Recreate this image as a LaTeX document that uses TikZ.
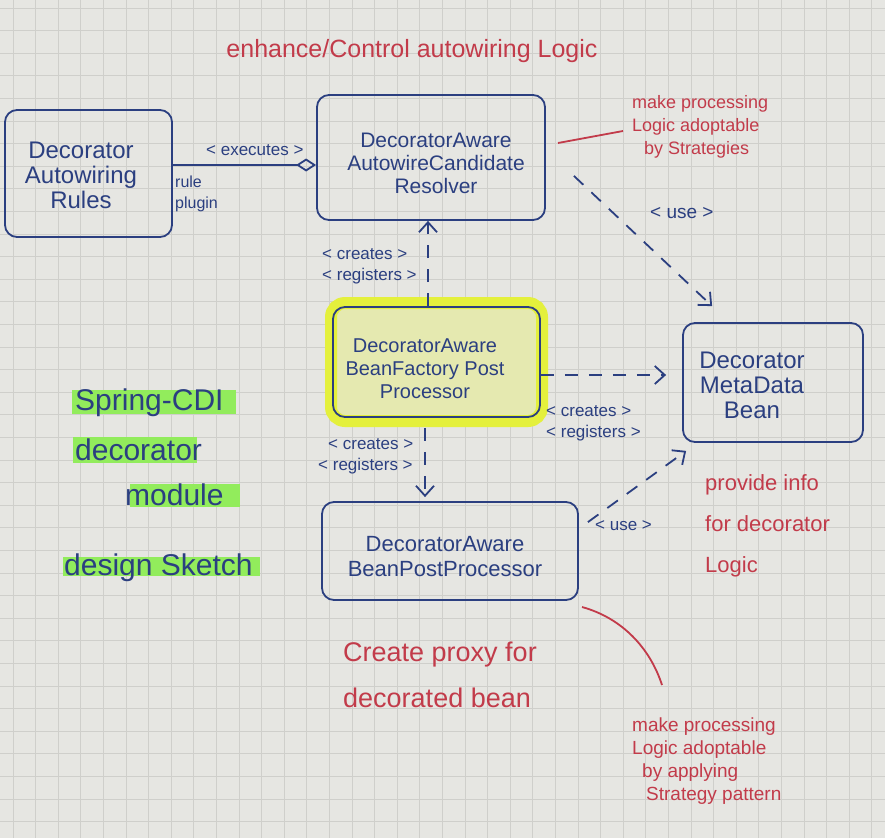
\documentclass[tikz,border=0pt]{standalone}
\usepackage{fontspec}
\setmainfont{Liberation Sans}
\usetikzlibrary{arrows.meta,calc}
\definecolor{paper}{HTML}{E6E6E2}
\definecolor{gridc}{HTML}{CFCFCB}
\definecolor{ink}{HTML}{2B3F80}
\definecolor{redink}{HTML}{C23B4A}
\definecolor{hlyellow}{HTML}{E4F03C}
\definecolor{hlgreen}{HTML}{92EC5C}
\tikzset{
  box/.style={draw=ink, line width=1.8pt, rounded corners=12pt, inner sep=0pt},
  boxtext/.style={text=ink, align=center, inner sep=0pt},
  lbl/.style={text=ink, align=left, inner sep=0pt, font=\fontsize{17}{21}\selectfont},
  redtext/.style={text=redink, align=left, inner sep=0pt},
  greentext/.style={text=ink, inner sep=0pt, font=\fontsize{30}{34}\selectfont},
  conn/.style={draw=ink, line width=1.8pt},
  dashedconn/.style={conn, dash pattern=on 13pt off 11pt},
  openhead/.style={-{Straight Barb[length=10pt,width=18pt]}},
  redline/.style={draw=redink, line width=1.8pt}
}
\begin{document}
\begin{tikzpicture}[x=1pt,y=-1pt]
\useasboundingbox (0,0) rectangle (885,838);
\fill[paper] (0,0) rectangle (885,838);
\foreach \i in {0,...,38} {\draw[gridc, line width=0.8pt] (13+22.6*\i,0) -- (13+22.6*\i,838);}
\foreach \j in {0,...,36} {\draw[gridc, line width=0.8pt] (0,8+22.6*\j) -- (885,8+22.6*\j);}

% yellow highlight behind the BeanFactoryPostProcessor box
\draw[hlyellow, line width=12pt, rounded corners=14pt, fill=hlyellow!30!paper] (331,303) rectangle (542,421);

% green highlights
\fill[hlgreen] (72,390) rectangle (236,414);
\fill[hlgreen] (73,437) rectangle (197,463);
\fill[hlgreen] (130,484) rectangle (240,507);
\fill[hlgreen] (63,557) rectangle (260,576);

% boxes
\node[box, minimum width=167pt, minimum height=127pt] (rules) at (88.5,173.5) {};
\node[boxtext, font=\fontsize{24}{25}\selectfont] (rulestext) at (81,175) {Decorator\\Autowiring\\Rules};

\node[box, minimum width=228pt, minimum height=125pt] (resolver) at (431,157.5) {};
\node[boxtext, font=\fontsize{21}{23}\selectfont] (resolvertext) at (436,163) {DecoratorAware\\AutowireCandidate\\Resolver};

\node[box, minimum width=207pt, minimum height=110pt] (bfpp) at (436.5,362) {};
\node[boxtext, font=\fontsize{20}{23}\selectfont] (bfpptext) at (425,369) {DecoratorAware\\BeanFactory Post\\Processor};

\node[box, minimum width=180pt, minimum height=119pt] (metadata) at (773,382.5) {};
\node[boxtext, font=\fontsize{24}{25}\selectfont] (metadatatext) at (752,385) {Decorator\\MetaData\\Bean};

\node[box, minimum width=256pt, minimum height=98pt] (bpp) at (450,551) {};
\node[boxtext, font=\fontsize{22}{25}\selectfont] (bpptext) at (445,557) {DecoratorAware\\BeanPostProcessor};

% connectors
\draw[conn, -{Diamond[open,length=20pt,width=13pt]}] (rules.east |- 0,165) -- (resolver.west |- 0,165);
\draw[dashedconn, openhead] (bfpp.north -| 428,0) -- (resolver.south -| 428,0);
\draw[dashedconn, openhead, shorten >=16pt] (bfpp.east |- 0,375) -- (metadata.west |- 0,375);
\draw[dashedconn, openhead, shorten <=10pt, shorten >=4pt] (bfpp.south -| 425,0) -- (bpp.north -| 425,0);
\draw[dashedconn, openhead] ($(resolver.south east)+(28,-45)$) -- ($(metadata.north west)+(30,-16)$);
\draw[dashedconn, openhead] ($(bpp.north east)+(9,21)$) -- ($(metadata.south west)+(4,8)$);

% connector labels
\node[lbl, anchor=base west] (exe) at (206,155) {< executes >};
\node[lbl, anchor=north west, font=\fontsize{16}{21}\selectfont] (plug) at (175,176) {rule\\plugin};
\node[lbl, anchor=north west] (crup) at (322,248) {< creates >\\< registers >};
\node[lbl, anchor=north west] (crright) at (546,405) {< creates >\\< registers >};
\node[lbl, anchor=north west] (crdown) at (318,438) {\hspace{10pt}< creates >\\< registers >};
\node[lbl, anchor=base west, font=\fontsize{19}{21}\selectfont] (useup) at (650,218) {< use >};
\node[lbl, anchor=base west] (uselow) at (595,530) {< use >};

% red notes
\node[redtext, anchor=base, font=\fontsize{25}{28}\selectfont] (title) at (412,57) {enhance/Control autowiring Logic};
\node[redtext, anchor=north west, font=\fontsize{18}{23}\selectfont] (note1) at (632,95) {make processing\\Logic adoptable\\\hspace{12pt}by Strategies};
\node[redtext, anchor=north west, font=\fontsize{22}{41}\selectfont] (note2) at (705,474) {provide info\\for decorator\\Logic};
\node[redtext, anchor=north west, font=\fontsize{27}{46}\selectfont] (note3) at (343,642) {Create proxy for\\decorated bean};
\node[redtext, anchor=north west, font=\fontsize{19}{22.7}\selectfont] (note4) at (632,718) {make processing\\Logic adoptable\\\hspace{10pt}by applying\\\hspace{14pt}Strategy pattern};

\coordinate (r1a) at (558,143);
\coordinate (r1b) at (623,131);
\draw[redline] (r1a) -- (r1b);
\coordinate (c1) at (582,607);
\coordinate (c2) at (662,685);
\draw[redline] (c1) .. controls (622,618) and (650,648) .. (c2);

% green side notes
\node[greentext, anchor=base west] (g1) at (75,410) {Spring-CDI};
\node[greentext, anchor=base west] (g2) at (75,460) {decorator};
\node[greentext, anchor=base west] (g3) at (125,505) {module};
\node[greentext, anchor=base west] (g4) at (64,575) {design Sketch};
\end{tikzpicture}
\end{document}
